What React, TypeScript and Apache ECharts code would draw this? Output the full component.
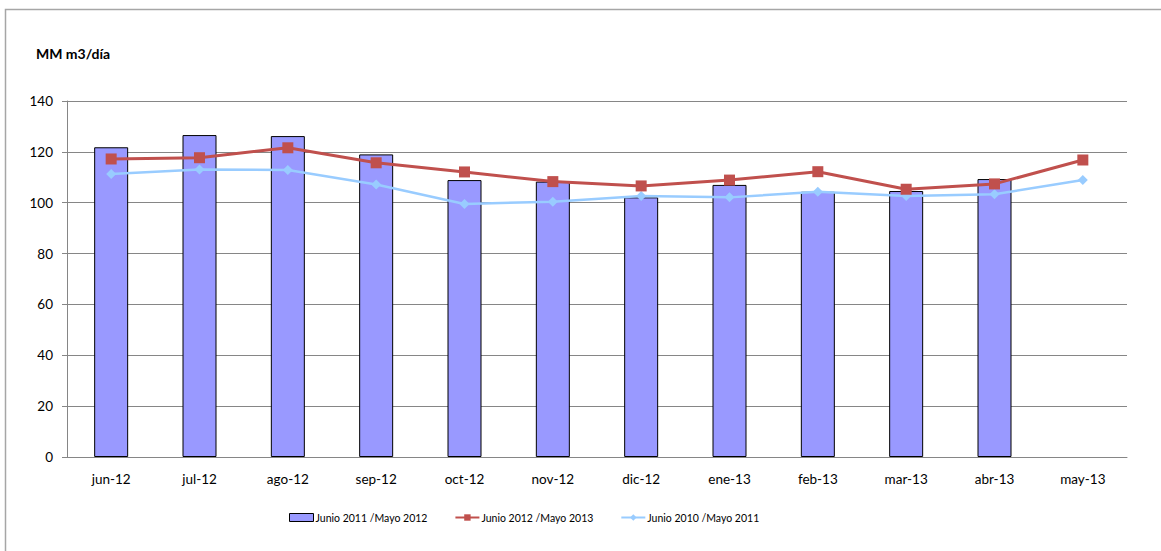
import React, { useEffect, useRef } from "react";
import * as echarts from "echarts";

const categories = ["jun-12", "jul-12", "ago-12", "sep-12", "oct-12", "nov-12", "dic-12", "ene-13", "feb-13", "mar-13", "abr-13", "may-13"];
const bars2011 = [121.8, 126.6, 126.2, 119.0, 108.9, 108.3, 102.1, 107.0, 104.3, 104.6, 109.3, null];
const line2012 = [117.2, 117.7, 121.6, 115.7, 112.1, 108.3, 106.6, 108.9, 112.2, 105.3, 107.4, 116.8];
const line2010 = [111.3, 113.1, 112.9, 107.2, 99.5, 100.4, 102.6, 102.1, 104.3, 102.6, 103.3, 108.9];
const yTicks = [0, 20, 40, 60, 80, 100, 120, 140];

const FONT = "Lato, 'Open Sans', sans-serif";

export default function App() {
  const ref = useRef<HTMLDivElement>(null);
  useEffect(() => {
    if (!ref.current) return;
    const chart = echarts.init(ref.current, undefined, { renderer: "svg" });
    chart.setOption({
      animation: false,
      backgroundColor: "#ffffff",
      textStyle: { fontFamily: FONT },
      graphic: [
        {
          type: "rect",
          shape: { x: 5.5, y: 9.5, width: 1200, height: 600 },
          style: { fill: "none", stroke: "#a6a6a6", lineWidth: 1.5 },
          silent: true,
        },
        {
          type: "text",
          left: 36,
          top: 46,
          style: { text: "MM m3/día", font: `bold 14px ${FONT}`, fill: "#000" },
        },
      ],
      grid: { left: 67, right: 34, top: 101, bottom: 94 },
      legend: {
        bottom: 23,
        left: 284,
        itemGap: 27,
        itemWidth: 24,
        itemHeight: 8,
        textStyle: { fontSize: 10.5, color: "#000", fontFamily: FONT, padding: [0, 0, 0, -3] },
        data: [
          { name: "Junio 2011 /Mayo 2012", icon: "rect", itemStyle: { color: "#9999FF", borderColor: "#000", borderWidth: 1 } },
          { name: "Junio 2012 /Mayo 2013" },
          { name: "Junio 2010 /Mayo 2011" },
        ],
      },
      xAxis: {
        type: "category",
        data: categories,
        axisLine: { lineStyle: { color: "#868686", width: 1 } },
        axisTick: { show: false },
        axisLabel: { color: "#000", fontSize: 13.5, margin: 15, fontFamily: FONT },
      },
      yAxis: {
        type: "value",
        min: 0,
        max: 140,
        interval: 20,
        axisLine: { show: true, lineStyle: { color: "#868686", width: 1 } },
        axisTick: { show: true, length: 5, lineStyle: { color: "#868686" } },
        axisLabel: {
          color: "#000",
          fontSize: 13.5,
          margin: 14,
          fontFamily: FONT,
          formatter: (v: number) => (yTicks.includes(v) ? String(v) : ""),
        },
        splitLine: { lineStyle: { color: "#868686", width: 1 } },
      },
      series: [
        {
          name: "Junio 2011 /Mayo 2012",
          type: "bar",
          data: bars2011,
          barWidth: 34,
          itemStyle: { color: "#9999FF", borderColor: "#000", borderWidth: 1 },
          z: 1,
        },
        {
          name: "Junio 2012 /Mayo 2013",
          type: "line",
          data: line2012,
          symbol: "rect",
          symbolSize: 11,
          lineStyle: { color: "#C0504D", width: 3 },
          itemStyle: { color: "#C0504D" },
          z: 3,
        },
        {
          name: "Junio 2010 /Mayo 2011",
          type: "line",
          data: line2010,
          symbol: "diamond",
          symbolSize: 10,
          lineStyle: { color: "#99CCFF", width: 2.5 },
          itemStyle: { color: "#99CCFF" },
          z: 2,
        },
      ],
    });
    return () => chart.dispose();
  }, []);
  return <div ref={ref} style={{ position: "fixed", left: 0, top: 0, width: 1161, height: 551 }} />;
}
